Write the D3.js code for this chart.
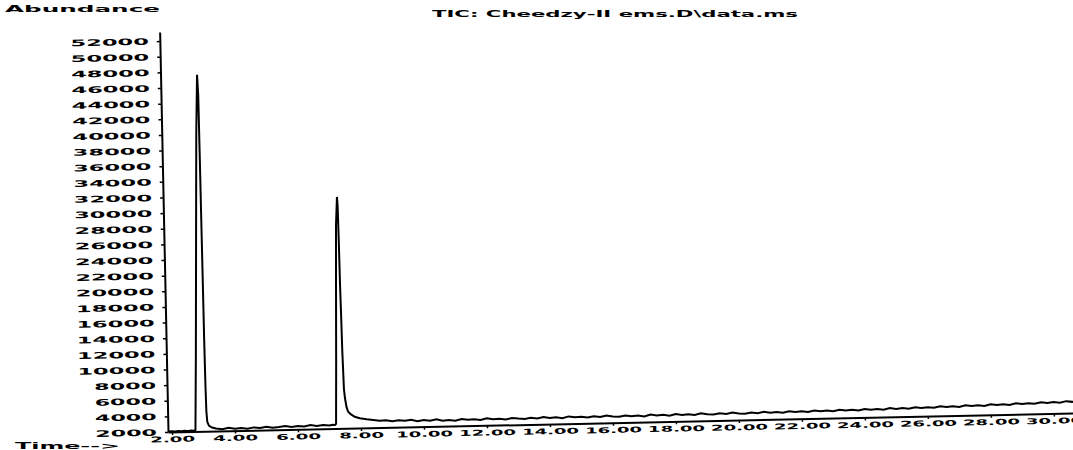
<!DOCTYPE html>
<html><head><meta charset="utf-8">
<script src="https://cdn.jsdelivr.net/npm/d3@7"></script>
<style>html,body{margin:0;padding:0;background:#fff}svg{display:block}</style>
</head><body>
<svg id="chart" width="1073" height="450"></svg>
<script>
// Retention time (min)
const times = [
  1.88, 2.0, 2.1, 2.2, 2.3, 2.4, 2.5, 2.6, 2.698,
  2.746, 2.810, 2.889, 2.968, 3.032, 3.056, 3.063, 3.069, 3.076, 3.082, 3.092, 3.105, 3.127, 3.175, 3.27,
  3.4, 3.6, 3.8, 4.0, 4.2, 4.4, 4.6, 4.8, 5.0, 5.2, 5.4, 5.6, 5.8, 6.0, 6.2, 6.4, 6.6, 6.8, 7.0, 7.1,
  7.175, 7.213, 7.254, 7.302, 7.343, 7.391, 7.407, 7.420, 7.432, 7.445, 7.458, 7.470, 7.486, 7.511, 7.556, 7.603, 7.683, 7.810, 7.968, 8.190,
  8.4, 8.6, 8.8, 9.0, 9.2, 9.4, 9.6, 9.8, 10.0, 10.2, 10.4, 10.6, 10.8, 11.0, 11.2, 11.4, 11.6, 11.8,
  12.0, 12.2, 12.4, 12.6, 12.8, 13.0, 13.2, 13.4, 13.6, 13.8, 14.0, 14.2, 14.4, 14.6, 14.8, 15.0, 15.2, 15.4, 15.6, 15.8,
  16.0, 16.2, 16.4, 16.6, 16.8, 17.0, 17.2, 17.4, 17.6, 17.8, 18.0, 18.2, 18.4, 18.6, 18.8, 19.0, 19.2, 19.4, 19.6, 19.8,
  20.0, 20.2, 20.4, 20.6, 20.8, 21.0, 21.2, 21.4, 21.6, 21.8, 22.0, 22.2, 22.4, 22.6, 22.8, 23.0, 23.2, 23.4, 23.6, 23.8,
  24.0, 24.2, 24.4, 24.6, 24.8, 25.0, 25.2, 25.4, 25.6, 25.8, 26.0, 26.2, 26.4, 26.6, 26.8, 27.0, 27.2, 27.4, 27.6, 27.8,
  28.0, 28.2, 28.4, 28.6, 28.8, 29.0, 29.2, 29.4, 29.6, 29.8, 30.0, 30.2, 30.4, 30.6, 30.8
];
// Total ion current abundance
const abundance = [
  2060, 2090, 2050, 2110, 2070, 2100, 2060, 2120, 2080,
  2200, 12000, 26000, 40000, 47600, 45000, 38000, 30000, 22000, 14000, 8000, 4500, 3200, 2700, 2450,
  2330, 2210, 2380, 2240, 2310, 2190, 2360, 2270, 2400, 2250, 2340, 2460, 2300, 2420, 2350, 2520, 2380, 2470, 2400, 2480,
  2450, 2600, 10000, 20000, 28000, 31600, 30500, 26000, 20000, 16500, 12000, 9800, 7000, 5900, 4700, 4100, 3800, 3450, 3250, 3100,
  2980, 2870, 2930, 2760, 2890, 2800, 2900, 2720, 2850, 2740, 2900, 2710, 2790, 2680, 2880, 2760, 2820, 2700,
  2910, 2750, 2800, 2690, 2870, 2780, 2720, 2860, 2740, 2900, 2770, 2830, 2710, 2920, 2790, 2850, 2730, 2880, 2760, 2940,
  2800, 2730, 2890, 2780, 2850, 2720, 2930, 2810, 2870, 2750, 2950, 2800, 2880, 2770, 2960, 2840, 2780, 2910, 2820, 2970,
  2850, 2790, 2940, 2830, 2990, 2860, 2920, 2810, 3000, 2880, 2950, 2840, 3020, 2900, 2970, 2870, 3050, 2930, 3000, 2900,
  3080, 2960, 3040, 2940, 3120, 3000, 3090, 2990, 3170, 3050, 3130, 3040, 3220, 3100, 3190, 3090, 3280, 3160, 3250, 3150,
  3340, 3220, 3310, 3210, 3400, 3290, 3380, 3280, 3470, 3360, 3450, 3350, 3540, 3430, 3520
];
const yTicks = [2000,4000,6000,8000,10000,12000,14000,16000,18000,20000,22000,24000,26000,
  28000,30000,32000,34000,36000,38000,40000,42000,44000,46000,48000,50000,52000];
const yTickLabels = ["2000","4000","6000","8000","10000","12000","14000","16000","18000","20000",
  "22000","24000","26000","28000","30000","32000","34000","36000","38000","40000","42000","44000",
  "46000","48000","50000","52000"];
const xTicks = [2,4,6,8,10,12,14,16,18,20,22,24,26,28,30];
const xTickLabels = ["2.00","4.00","6.00","8.00","10.00","12.00","14.00","16.00","18.00","20.00",
  "22.00","24.00","26.00","28.00","30.00"];
const yTitle = "Abundance";
const xTitle = "Time-->";
const chartTitle = "TIC: Cheedzy-II ems.D\\data.ms";

const svg = d3.select("#chart");
const FONT = "'DejaVu Sans', sans-serif";
const x0 = 168, yb = 432;
const x = d3.scaleLinear().domain([1.873, 30.825]).range([x0, 1080]);
const y = d3.scaleLinear().domain([2000, 53150]).range([yb, 32]);

const g = svg.append("g").attr("transform", `rotate(-1.2, ${x0}, ${yb})`);

// Y axis
const yAxis = g.append("g").attr("transform", `translate(${x0},0)`)
  .call(d3.axisLeft(y).tickValues(yTicks).tickFormat((d,i)=>yTickLabels[i]).tickSize(3).tickSizeOuter(0));
yAxis.select(".domain").attr("stroke","#000").attr("stroke-width",2);
yAxis.selectAll(".tick line").attr("stroke","#000").attr("stroke-width",1.5);
yAxis.selectAll(".tick text")
  .attr("x", -11)
  .attr("font-family", FONT).attr("font-weight","bold").attr("font-size", 9).attr("fill","#000")
  .attr("textLength", d => yTickLabels[yTicks.indexOf(d)].length*16.6 - 4.6)
  .attr("lengthAdjust","spacingAndGlyphs");

// X axis
const xAxis = g.append("g").attr("transform", `translate(0,${yb})`)
  .call(d3.axisBottom(x).tickValues(xTicks).tickFormat((d,i)=>xTickLabels[i]).tickSize(3).tickSizeOuter(0));
xAxis.select(".domain").attr("stroke","#000").attr("stroke-width",2);
xAxis.selectAll(".tick line").attr("stroke","#000").attr("stroke-width",1.5);
xAxis.selectAll(".tick text")
  .attr("y", 4.5)
  .attr("font-family", FONT).attr("font-weight","bold").attr("font-size", 8).attr("fill","#000")
  .attr("textLength", d => xTickLabels[xTicks.indexOf(d)].length*12 - 3)
  .attr("lengthAdjust","spacingAndGlyphs");

// Trace
const pts = times.map((t,i)=>({t, v: abundance[i]}));
g.append("path").datum(pts)
  .attr("fill","none").attr("stroke","#000").attr("stroke-width",2).attr("stroke-linejoin","miter")
  .attr("d", d3.line().x(d=>x(d.t)).y(d=>y(d.v)));

// Texts
svg.append("text").attr("x",5).attr("y",11.5)
  .attr("font-family",FONT).attr("font-weight","bold").attr("font-size",9)
  .attr("textLength",155).attr("lengthAdjust","spacingAndGlyphs").text(yTitle);
svg.append("text").attr("x",432).attr("y",16.5)
  .attr("font-family",FONT).attr("font-weight","bold").attr("font-size",9)
  .attr("textLength",366).attr("lengthAdjust","spacingAndGlyphs").text(chartTitle);
svg.append("text").attr("x",15).attr("y",448.5)
  .attr("font-family",FONT).attr("font-weight","bold").attr("font-size",8)
  .attr("textLength",105).attr("lengthAdjust","spacingAndGlyphs").text(xTitle);
</script>
</body></html>
